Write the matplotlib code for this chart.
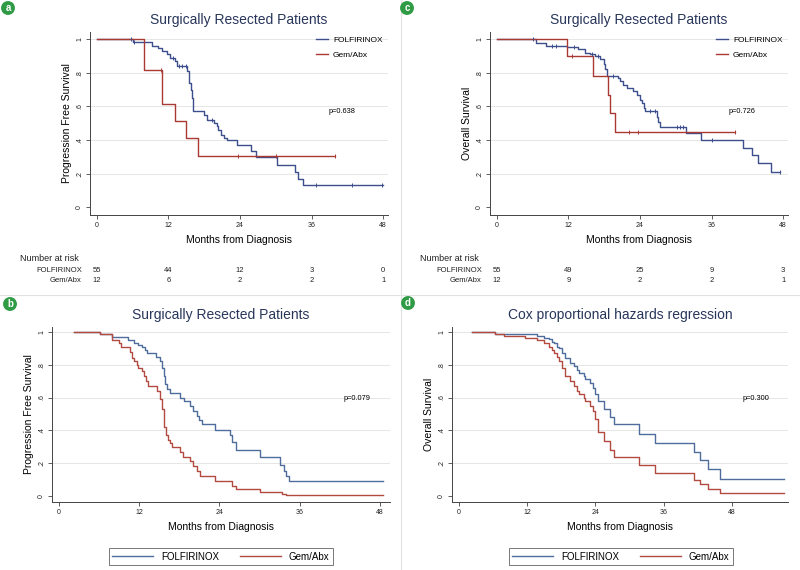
import numpy as np
import matplotlib
matplotlib.use("Agg")
import matplotlib.pyplot as plt
import matplotlib.transforms as mtransforms

plt.rcParams['font.family'] = ['Liberation Sans', 'DejaVu Sans']

# ---- data: step times (months) and survival after each step ----
# panel a: PFS, surgically resected
a_folf_t = [0, 6.1, 9.2, 10.3, 11.0, 11.7, 12.3, 13.1, 13.4, 15.1, 15.4, 15.8, 15.9, 16.2,
            17.9, 18.4, 19.6, 20.1, 20.4, 20.9, 21.3, 21.8, 23.5, 25.8, 26.7, 30.2, 33.2, 33.8, 34.5, 47.9]
a_folf_s = [1, 0.982, 0.96, 0.945, 0.93, 0.91, 0.89, 0.87, 0.84, 0.81, 0.74, 0.70, 0.65, 0.575,
            0.55, 0.52, 0.50, 0.485, 0.46, 0.43, 0.41, 0.40, 0.37, 0.335, 0.30, 0.25, 0.21, 0.17, 0.13, 0.13]
a_folf_cens = [5.7, 6.3, 12.8, 13.8, 14.3, 15.0, 19.3, 36.8, 42.7, 47.8]
a_gem_t = [0, 7.9, 10.9, 13.2, 14.9, 17.0, 39.9]
a_gem_s = [1, 0.817, 0.614, 0.511, 0.41, 0.307, 0.307]
a_gem_cens = [10.8, 23.6, 30.0, 39.9]

# panel c: OS, surgically resected
c_folf_t = [0, 6.6, 8.2, 11.7, 13.7, 14.8, 15.6, 16.4, 17.3, 17.9, 18.2, 18.4, 20.4, 20.7, 21.2,
            21.8, 22.9, 23.5, 24.0, 24.3, 24.6, 24.8, 26.8, 27.0, 27.3, 31.7, 34.3, 41.2, 42.7, 43.8, 45.9, 47.4]
c_folf_s = [1, 0.98, 0.96, 0.955, 0.94, 0.92, 0.91, 0.90, 0.88, 0.85, 0.82, 0.78, 0.77, 0.75, 0.73,
            0.71, 0.69, 0.67, 0.64, 0.62, 0.59, 0.57, 0.54, 0.51, 0.48, 0.44, 0.40, 0.351, 0.31, 0.265, 0.212, 0.212]
c_folf_cens = [6.1, 9.2, 10.0, 13.0, 16.0, 17.0, 19.5, 25.7, 26.5, 30.2, 30.7, 31.2, 36.0, 47.4]
c_gem_t = [0, 11.7, 16.1, 18.7, 18.9, 19.8, 39.9]
c_gem_s = [1, 0.90, 0.784, 0.67, 0.56, 0.45, 0.45]
c_gem_cens = [12.6, 22.2, 23.7, 39.9]

# panel b: PFS, all patients
b_folf_t = [2.3, 6.2, 8.0, 10.4, 11.2, 11.9, 12.4, 12.9, 13.2, 14.6, 15.1, 15.4, 15.8, 15.9, 16.2,
            16.7, 18.2, 18.7, 19.6, 20.1, 20.6, 21.0, 21.4, 23.4, 25.6, 25.9, 26.5, 30.1, 33.1, 33.6,
            33.9, 34.4, 48.5]
b_folf_s = [1, 0.99, 0.97, 0.95, 0.93, 0.92, 0.91, 0.89, 0.87, 0.85, 0.82, 0.78, 0.73, 0.68, 0.65,
            0.63, 0.60, 0.58, 0.55, 0.52, 0.49, 0.46, 0.44, 0.40, 0.37, 0.33, 0.28, 0.238, 0.19, 0.15,
            0.12, 0.091, 0.091]
b_gem_t = [2.3, 6.2, 8.0, 9.0, 9.3, 10.7, 10.9, 11.2, 11.7, 11.9, 12.4, 12.8, 13.0, 13.3, 14.7,
           15.1, 15.4, 15.7, 15.8, 16.0, 16.3, 16.6, 16.9, 18.2, 18.6, 19.6, 20.1, 20.6, 21.1, 23.4,
           25.9, 26.5, 30.1, 33.3, 34.0, 34.6, 48.5]
b_gem_s = [1, 0.985, 0.95, 0.93, 0.91, 0.88, 0.84, 0.82, 0.80, 0.78, 0.76, 0.73, 0.70, 0.67, 0.64,
           0.59, 0.53, 0.48, 0.42, 0.37, 0.34, 0.32, 0.30, 0.27, 0.24, 0.21, 0.18, 0.15, 0.12, 0.09,
           0.06, 0.04, 0.022, 0.012, 0.006, 0.003, 0.003]

# panel d: Cox model, OS
d_folf_t = [2.3, 6.4, 8.8, 13.8, 14.9, 15.8, 16.4, 16.8, 17.3, 17.7, 18.1, 18.6, 19.6, 20.2, 20.7,
            21.1, 22.0, 22.2, 23.1, 23.6, 24.0, 24.4, 25.6, 26.6, 27.2, 31.6, 34.5, 41.3, 42.4, 43.7,
            45.8, 57.1]
d_folf_s = [1, 0.99, 0.985, 0.975, 0.965, 0.955, 0.94, 0.93, 0.91, 0.90, 0.87, 0.84, 0.81, 0.79, 0.77,
            0.75, 0.73, 0.71, 0.69, 0.66, 0.62, 0.58, 0.53, 0.48, 0.437, 0.38, 0.325, 0.268, 0.217, 0.167,
            0.106, 0.106]
d_gem_t = [2.3, 6.4, 7.9, 11.7, 13.8, 14.9, 15.8, 16.4, 16.8, 17.3, 17.7, 18.1, 18.6, 19.6, 20.2,
           20.7, 21.1, 22.0, 22.2, 23.1, 23.6, 24.0, 24.4, 25.6, 26.6, 27.2, 31.6, 34.5, 41.3, 42.4,
           43.7, 45.8, 57.1]
d_gem_s = [1, 0.99, 0.975, 0.965, 0.95, 0.93, 0.91, 0.89, 0.87, 0.85, 0.82, 0.78, 0.73, 0.70, 0.67,
           0.64, 0.62, 0.60, 0.58, 0.55, 0.52, 0.47, 0.39, 0.333, 0.28, 0.238, 0.187, 0.142, 0.10, 0.07,
           0.04, 0.02, 0.02]

risk_times = [0, 12, 24, 36, 48]
a_risk_folf = [55, 44, 12, 3, 0]
a_risk_gem = [12, 6, 2, 2, 1]
c_risk_folf = [55, 49, 25, 9, 3]
c_risk_gem = [12, 9, 2, 2, 1]

groups = ['FOLFIRINOX', 'Gem/Abx']
blue = '#3c4f8c'
red = '#a83a33'
blue2 = '#4f6d9c'
red2 = '#b24a40'
title_col = '#28365a'

W, H = 800, 570
fig = plt.figure(figsize=(8, 5.7), dpi=100)


def rect(l, t, r, b):
    return [l / W, 1 - b / H, (r - l) / W, (b - t) / H]


def style_axes(ax, xlim, ylim, xticks):
    ax.set_xlim(*xlim)
    ax.set_ylim(*ylim)
    for s in ['top', 'right']:
        ax.spines[s].set_visible(False)
    for s in ['left', 'bottom']:
        ax.spines[s].set_color('#444444')
        ax.spines[s].set_linewidth(0.7)
    ax.set_xticks(xticks)
    ax.set_yticks([0, 0.2, 0.4, 0.6, 0.8, 1.0])
    ax.set_yticklabels(['0', '.2', '.4', '.6', '.8', '1'], rotation=90, va='center')
    ax.tick_params(axis='both', labelsize=5, length=3, width=0.6, color='#444444',
                   labelcolor='#222222', pad=2)
    for g in [0.2, 0.4, 0.6, 0.8, 1.0]:
        ax.axhline(g, color='#e2e2e2', lw=0.6, zorder=0)


def km(ax, t, s, color, cens=None):
    line, = ax.step(t, s, where='post', color=color, lw=1.0, zorder=3)
    if cens is not None:
        idx = np.searchsorted(t, cens, side='right') - 1
        ax.plot(cens, np.array(s)[idx], ls='none', marker='|', ms=3.5, mew=0.7,
                color=color, zorder=4)
    return line


def risk_table(ax, folf, gem, top):
    tr = mtransforms.blended_transform_factory(ax.transData, fig.transFigure)
    dx = ax.get_position().x0 - 90 / W
    fig.text(20 / W + dx, 1 - top / H, 'Number at risk', fontsize=6.5,
             ha='left', va='center', color='#222222')
    fig.text(82 / W + dx, 1 - (top + 13) / H, groups[0], fontsize=5.5,
             ha='right', va='center', color='#222222')
    fig.text(82 / W + dx, 1 - (top + 22) / H, groups[1], fontsize=5.5,
             ha='right', va='center', color='#222222')
    for tt, n1, n2 in zip(risk_times, folf, gem):
        ax.text(tt, 1 - (top + 13) / H, str(n1), transform=tr, fontsize=5.5,
                ha='center', va='center', color='#222222')
        ax.text(tt, 1 - (top + 22) / H, str(n2), transform=tr, fontsize=5.5,
                ha='center', va='center', color='#222222')


def top_legend(ax, handles, x_px):
    ax.legend(handles, groups, loc='upper left', bbox_to_anchor=(x_px / W, 1 - 29 / H),
              bbox_transform=fig.transFigure, frameon=False, fontsize=6,
              handlelength=1.5, handletextpad=0.6, labelspacing=0.85)


def bottom_legend(ax, handles, cx_px):
    lg = ax.legend(handles, groups, loc='center', bbox_to_anchor=(cx_px / W, 1 - 556.5 / H),
                   bbox_transform=fig.transFigure, ncol=2, fontsize=7, fancybox=False,
                   edgecolor='#555555', handlelength=4.2, columnspacing=2.2, borderpad=0.35)
    lg.get_frame().set_linewidth(0.7)


# ---- panel a ----
axa = fig.add_axes(rect(90, 32, 388, 215))
style_axes(axa, (-1.12, 48.8), (-0.046, 1.043), [0, 12, 24, 36, 48])
h1 = km(axa, a_folf_t, a_folf_s, blue, a_folf_cens)
h2 = km(axa, a_gem_t, a_gem_s, red, a_gem_cens)
axa.set_title('Surgically Resected Patients', fontsize=10, color=title_col, pad=6)
axa.set_ylabel('Progression Free Survival', fontsize=7.5, labelpad=3)
axa.set_xlabel('Months from Diagnosis', fontsize=7.5, labelpad=4)
axa.text(38.8, 0.567, 'p=0.638', fontsize=5.3, va='center')
top_legend(axa, [h1, h2], 308)
risk_table(axa, a_risk_folf, a_risk_gem, 258)

# ---- panel c ----
axc = fig.add_axes(rect(490, 32, 788, 215))
style_axes(axc, (-1.12, 48.8), (-0.046, 1.043), [0, 12, 24, 36, 48])
h1 = km(axc, c_folf_t, c_folf_s, blue, c_folf_cens)
h2 = km(axc, c_gem_t, c_gem_s, red, c_gem_cens)
axc.set_title('Surgically Resected Patients', fontsize=10, color=title_col, pad=6)
axc.set_ylabel('Overall Survival', fontsize=7.5, labelpad=3)
axc.set_xlabel('Months from Diagnosis', fontsize=7.5, labelpad=4)
axc.text(38.8, 0.567, 'p=0.726', fontsize=5.3, va='center')
top_legend(axc, [h1, h2], 708)
risk_table(axc, c_risk_folf, c_risk_gem, 258)

# ---- panel b ----
axb = fig.add_axes(rect(52, 327, 390, 502))
style_axes(axb, (-0.99, 49.5), (-0.037, 1.03), [0, 12, 24, 36, 48])
h1 = km(axb, b_folf_t, b_folf_s, blue2)
h2 = km(axb, b_gem_t, b_gem_s, red2)
axb.set_title('Surgically Resected Patients', fontsize=10, color=title_col, pad=6)
axb.set_ylabel('Progression Free Survival', fontsize=7.5, labelpad=3)
axb.set_xlabel('Months from Diagnosis', fontsize=7.5, labelpad=4)
axb.text(42.5, 0.593, 'p=0.079', fontsize=5.3, va='center')
bottom_legend(axb, [h1, h2], 221)

# ---- panel d ----
axd = fig.add_axes(rect(452, 327, 788, 502))
style_axes(axd, (-1.16, 57.8), (-0.037, 1.03), [0, 12, 24, 36, 48])
h1 = km(axd, d_folf_t, d_folf_s, blue2)
h2 = km(axd, d_gem_t, d_gem_s, red2)
axd.set_title('Cox proportional hazards regression', fontsize=10, color=title_col, pad=6)
axd.set_ylabel('Overall Survival', fontsize=7.5, labelpad=3)
axd.set_xlabel('Months from Diagnosis', fontsize=7.5, labelpad=4)
axd.text(49.9, 0.593, 'p=0.300', fontsize=5.3, va='center')
bottom_legend(axd, [h1, h2], 621)

# panel dividers and letter badges
fig.add_artist(plt.Line2D([400.5 / W, 400.5 / W], [0, 1], color='#e2e2e2', lw=0.8))
fig.add_artist(plt.Line2D([0, 1], [1 - 295 / H, 1 - 295 / H], color='#e2e2e2', lw=0.8))
for letter, (px, py) in zip('acbd', [(8, 8), (407, 8), (10, 304), (408, 303)]):
    fig.text(px / W, 1 - py / H, letter, fontsize=7, fontweight='bold', color='white',
             ha='center', va='center',
             bbox=dict(boxstyle='circle,pad=0.2', fc='#2f9b45', ec='none'))

fig.savefig('out.png', dpi=100, facecolor='white')
